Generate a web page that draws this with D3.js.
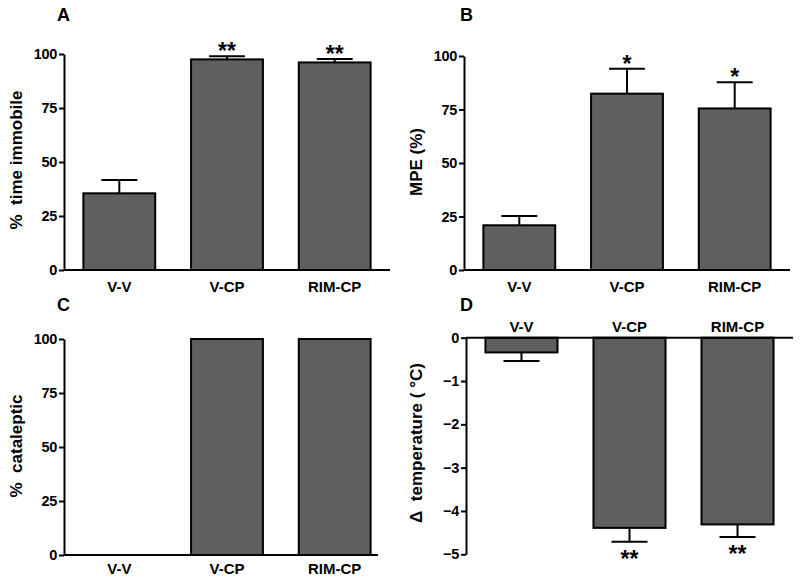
<!DOCTYPE html>
<html><head><meta charset="utf-8">
<script src="https://cdn.jsdelivr.net/npm/d3@7"></script>
<style>
body{margin:0;background:#fff}
svg{display:block;font-family:"Liberation Sans",Arial,sans-serif;font-weight:bold}
</style></head>
<body>
<svg id="chart" width="800" height="583"></svg>
<script>
// ---- data ----
const categories = ["V-V", "V-CP", "RIM-CP"];
const immobileMean = [35.5, 97.5, 96.1];
const immobileSEM  = [6.2, 1.5, 1.6];
const immobileStars = ["", "**", "**"];
const mpeMean = [20.9, 82.4, 75.5];
const mpeSEM  = [4.3, 11.7, 12.2];
const mpeStars = ["", "*", "*"];
const catalepticPct = [0, 100, 100];
const tempMean = [-0.34, -4.39, -4.31];
const tempSEM  = [0.20, 0.32, 0.29];
const tempStars = ["", "**", "**"];
const pctTicks = [0, 25, 50, 75, 100];
const tempTicks = [0, -1, -2, -3, -4, -5];

const svg = d3.select("#chart");
const FILL = "#5f5f5f";

function panel(cfg) {
  const g = svg.append("g");
  const x = d3.scaleBand().domain(categories).range([cfg.x0, cfg.x1])
    .paddingInner(0.333).paddingOuter(0.18);
  const y = d3.scaleLinear().domain(cfg.domain).range([cfg.yb, cfg.yt]);
  const rows = categories.map((c, i) => ({
    c, v: cfg.mean[i], e: cfg.sem ? cfg.sem[i] : null, s: cfg.stars ? cfg.stars[i] : ""
  }));

  // bars
  g.selectAll("rect.bar").data(rows.filter(d => d.v !== 0)).join("rect")
    .attr("x", d => x(d.c)).attr("width", x.bandwidth())
    .attr("y", d => Math.min(y(d.v), y(0)))
    .attr("height", d => Math.abs(y(d.v) - y(0)))
    .attr("fill", FILL).attr("stroke", "#000").attr("stroke-width", 2);

  // error bars
  const eb = rows.filter(d => d.e != null);
  const tip = d => d.v + (d.v >= 0 ? d.e : -d.e);
  g.selectAll("line.err").data(eb).join("line")
    .attr("x1", d => x(d.c) + x.bandwidth() / 2).attr("x2", d => x(d.c) + x.bandwidth() / 2)
    .attr("y1", d => y(d.v)).attr("y2", d => y(tip(d)))
    .attr("stroke", "#000").attr("stroke-width", 2);
  g.selectAll("line.cap").data(eb).join("line")
    .attr("x1", d => x(d.c) + x.bandwidth() * 0.25).attr("x2", d => x(d.c) + x.bandwidth() * 0.75)
    .attr("y1", d => y(tip(d))).attr("y2", d => y(tip(d)))
    .attr("stroke", "#000").attr("stroke-width", 2);

  // stars
  g.selectAll("text.star").data(rows.filter(d => d.s)).join("text")
    .attr("x", d => x(d.c) + x.bandwidth() / 2)
    .attr("y", d => y(tip(d)) + (d.v >= 0 ? 3 : 25))
    .attr("text-anchor", "middle").attr("font-size", 23).text(d => d.s);

  // y axis
  const ya = g.append("g").attr("transform", `translate(${cfg.x0},0)`)
    .call(d3.axisLeft(y).tickValues(cfg.ticks).tickFormat(d3.format("d"))
      .tickSize(5).tickSizeOuter(0).tickPadding(2));
  ya.select(".domain").attr("stroke-width", 2);
  ya.selectAll(".tick line").attr("stroke-width", 2);
  ya.selectAll(".tick text").attr("font-size", 14.5).attr("font-family", null).attr("font-weight", "bold")
    .attr("letter-spacing", "-0.3px");

  // x axis line
  g.append("line").attr("x1", cfg.x0).attr("x2", cfg.xLineEnd)
    .attr("y1", y(0)).attr("y2", y(0)).attr("stroke", "#000").attr("stroke-width", 2);

  // category labels
  g.selectAll("text.cat").data(categories).join("text")
    .attr("x", d => x(d) + x.bandwidth() / 2).attr("y", cfg.catY)
    .attr("text-anchor", "middle").attr("font-size", 15).text(d => d);

  // y title
  g.append("text").attr("transform", `translate(${cfg.titleX},${cfg.titleY}) rotate(-90)`)
    .attr("text-anchor", "middle").attr("font-size", 17)
    .style("white-space", "pre").text(cfg.title);

  // panel letter
  g.append("text").attr("x", cfg.letterX).attr("y", cfg.letterY)
    .attr("font-size", 18).text(cfg.letter);
}

panel({ letter: "A", letterX: 57, letterY: 21, x0: 64, x1: 390, xLineEnd: 390,
  domain: [0, 100], yb: 270, yt: 54, ticks: pctTicks,
  mean: immobileMean, sem: immobileSEM, stars: immobileStars,
  catY: 292, title: "%  time immobile", titleX: 22, titleY: 160 });

panel({ letter: "B", letterX: 460, letterY: 21, x0: 464, x1: 790, xLineEnd: 790,
  domain: [0, 100], yb: 270, yt: 56, ticks: pctTicks,
  mean: mpeMean, sem: mpeSEM, stars: mpeStars,
  catY: 292, title: "MPE (%)", titleX: 422, titleY: 162 });

panel({ letter: "C", letterX: 57, letterY: 311, x0: 64, x1: 390, xLineEnd: 378,
  domain: [0, 100], yb: 555, yt: 339, ticks: pctTicks,
  mean: catalepticPct, sem: null, stars: null,
  catY: 574, title: "%  cataleptic", titleX: 22, titleY: 446 });

panel({ letter: "D", letterX: 460, letterY: 311, x0: 466, x1: 793, xLineEnd: 793,
  domain: [-5, 0], yb: 554.3, yt: 337.7, ticks: tempTicks,
  mean: tempMean, sem: tempSEM, stars: tempStars,
  catY: 332, title: "Δ  temperature ( °C)", titleX: 422, titleY: 443 });
</script>
</body></html>
